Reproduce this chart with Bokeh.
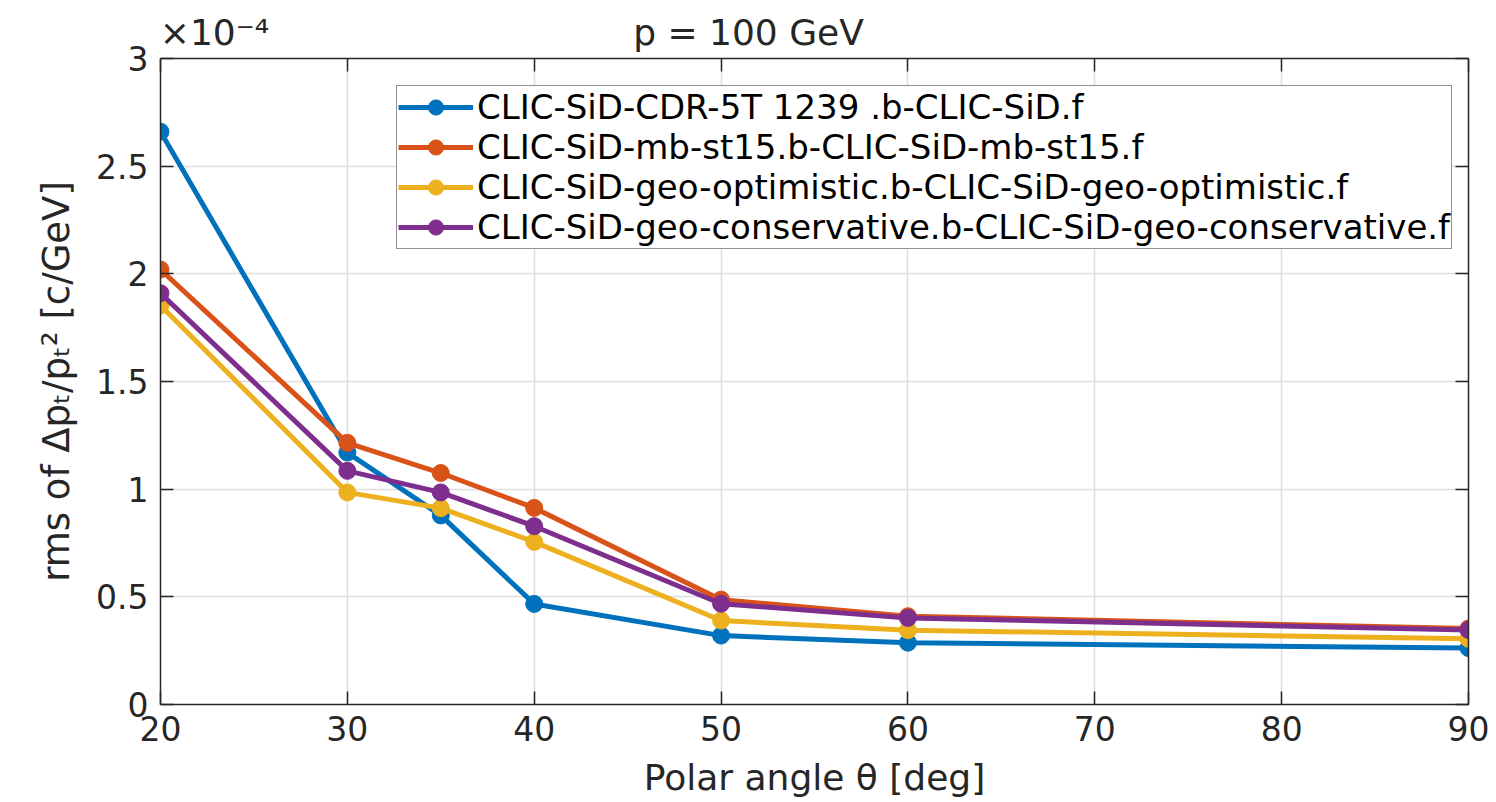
from bokeh.plotting import figure
from bokeh.models import (LinearAxis, Range1d, Legend, LegendItem,
                          FixedTicker, CustomJSTickFormatter)
from bokeh.embed import file_html
from bokeh.resources import INLINE

# ---- data (rms values in units of 1e-4 c/GeV) ----
theta = [20, 30, 35, 40, 50, 60, 90]
cdr_5t = [2.66, 1.17, 0.878, 0.467, 0.32, 0.287, 0.262]
mb_st15 = [2.02, 1.215, 1.075, 0.913, 0.487, 0.41, 0.353]
geo_optimistic = [1.853, 0.985, 0.912, 0.755, 0.39, 0.345, 0.305]
geo_conservative = [1.91, 1.085, 0.985, 0.828, 0.468, 0.402, 0.346]

labels = [
    "CLIC-SiD-CDR-5T 1239 .b-CLIC-SiD.f",
    "CLIC-SiD-mb-st15.b-CLIC-SiD-mb-st15.f",
    "CLIC-SiD-geo-optimistic.b-CLIC-SiD-geo-optimistic.f",
    "CLIC-SiD-geo-conservative.b-CLIC-SiD-geo-conservative.f",
]
series = [cdr_5t, mb_st15, geo_optimistic, geo_conservative]
colors = ["#0072BD", "#D95319", "#EDB120", "#7E2F8E"]

x_ticks = [20, 30, 40, 50, 60, 70, 80, 90]
y_ticks = [0, 0.5, 1, 1.5, 2, 2.5, 3]

title_text = "p = 100 GeV"
exponent_text = "×10⁻⁴"
x_label = "Polar angle θ [deg]"
y_label = "rms of Δpₜ/pₜ² [c/GeV]"

X0, X1, Y0, Y1 = 20, 90, 0, 3
W, H = 1496, 802
BL, BR, BT, BB = 160, 28, 58, 98
FW = W - BL - BR
PXX = FW / (X1 - X0)

TXT = "#262626"
FONT = "DejaVu Sans"

p = figure(width=W, height=H, x_range=Range1d(X0, X1), y_range=Range1d(Y0, Y1),
           output_backend="svg", toolbar_location=None,
           min_border_left=BL, min_border_right=BR,
           min_border_top=BT, min_border_bottom=BB)
p.outline_line_color = None
p.background_fill_color = "white"
p.border_fill_color = "white"


def style_box_axis(ax):
    ax.major_tick_in = 13
    ax.major_tick_out = 0
    ax.minor_tick_line_color = None
    ax.axis_line_color = TXT
    ax.axis_line_width = 1.5
    ax.major_tick_line_color = TXT
    ax.major_tick_line_width = 1.5


# main axes
for ax, ticks in ((p.xaxis[0], x_ticks), (p.yaxis[0], y_ticks)):
    ax.ticker = FixedTicker(ticks=ticks)
    ax.formatter = CustomJSTickFormatter(code="return String(tick);")
    style_box_axis(ax)
    ax.major_label_text_font = FONT
    ax.major_label_text_font_size = "33px"
    ax.major_label_text_color = TXT
    ax.axis_label_text_font = FONT
    ax.axis_label_text_font_style = "normal"
    ax.axis_label_text_color = TXT

p.xaxis[0].axis_label = x_label
p.xaxis[0].axis_label_text_font_size = "36px"
p.xaxis[0].major_label_standoff = 11
p.xaxis[0].axis_label_standoff = 13
p.yaxis[0].axis_label = y_label
p.yaxis[0].axis_label_text_font_size = "37px"
p.yaxis[0].major_label_standoff = 12
p.yaxis[0].axis_label_standoff = 15

# box axes (top / right) with inward ticks only
for loc, ticks in (("above", x_ticks), ("right", y_ticks)):
    ax = LinearAxis(ticker=FixedTicker(ticks=ticks),
                    formatter=CustomJSTickFormatter(code="return '';"))
    style_box_axis(ax)
    ax.major_label_standoff = 0
    ax.major_label_text_font_size = "1px"
    p.add_layout(ax, loc)

# text row above the axes box: exponent (left) and title (centre)
exp_x = X0 + 54 / PXX
title_x = X0 + 588 / PXX
text_axis = LinearAxis(
    ticker=FixedTicker(ticks=[exp_x, title_x]),
    formatter=CustomJSTickFormatter(
        args=dict(a=exponent_text, b=title_text, lim=X0 + 10),
        code="return tick < lim ? a : b;"))
text_axis.axis_line_color = None
text_axis.major_tick_line_color = None
text_axis.minor_tick_line_color = None
text_axis.major_label_standoff = 0
text_axis.major_label_text_font = FONT
text_axis.major_label_text_font_size = "36px"
text_axis.major_label_text_color = TXT
p.add_layout(text_axis, "above")

p.xgrid.ticker = FixedTicker(ticks=x_ticks)
p.ygrid.ticker = FixedTicker(ticks=y_ticks)
for g in (p.xgrid[0], p.ygrid[0]):
    g.grid_line_color = "#dedede"
    g.grid_line_width = 1.5

items = []
for lab, ys, c in zip(labels, series, colors):
    l = p.line(theta, ys, line_width=5, color=c)
    s = p.scatter(theta, ys, size=17, color=c)
    items.append(LegendItem(label=lab, renderers=[l, s]))

legend = Legend(items=items, location=(236, 455),
                label_text_font=FONT, label_text_font_size="34px",
                label_text_color="black",
                glyph_width=75, glyph_height=38, label_height=38,
                label_standoff=4, spacing=0, padding=1, margin=0,
                border_line_color=TXT, border_line_width=1.5,
                background_fill_color="white", background_fill_alpha=1)
p.add_layout(legend)

open("out.html", "w").write(file_html(p, INLINE))
